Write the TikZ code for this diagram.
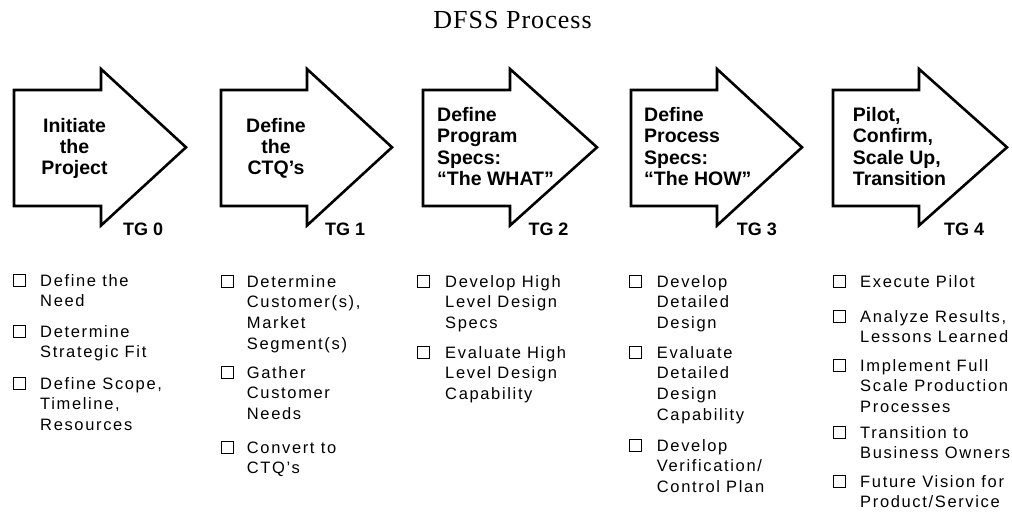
\documentclass[tikz,border=0pt]{standalone}
\usepackage{fontspec}
\setmainfont{Liberation Sans}
\newfontfamily\titlefont[LetterSpace=4]{Liberation Serif}
\newfontfamily\listfont[LetterSpace=10]{Liberation Sans}
\newcommand\mylines[2]{\begin{tabular}[t]{@{}#1@{}}#2\end{tabular}}
\newcommand\dfssarrow[4]{%
  \coordinate (#1) at (#2,90);
  \draw[bigarrow] (#1) -- (#3,90) -- (#3,69) -- (#4,147.3) -- (#3,225.5) -- (#3,206) -- (#2,206) -- cycle;}
\newcommand\chkitem[5]{%
  \node[cbox] (#1b) at (#2,#4+0.6) {};
  \node[item] (#1) at (#3,#4) {\mylines{l}{#5}};}
\begin{document}
\begin{tikzpicture}[x=1pt,y=-1pt,
  bigarrow/.style={draw=black, line width=2.6pt, line join=miter, fill=white},
  head/.style={inner sep=0pt, anchor=base, font=\bfseries\fontsize{19.5}{21.3}\selectfont},
  headl/.style={head, anchor=base west},
  tg/.style={inner sep=0pt, anchor=base west, font=\bfseries\fontsize{18}{20}\selectfont},
  item/.style={inner sep=0pt, anchor=base west, font=\listfont\fontsize{16.5}{20.7}\selectfont},
  cbox/.style={draw, line width=1.1pt, minimum size=12pt, inner sep=0pt, anchor=south west}]
\useasboundingbox (0,0) rectangle (1012,516);

\node[inner sep=0pt, anchor=base, font=\titlefont\fontsize{26}{30}\selectfont] (title) at (512.5,28.3) {DFSS Process};

% arrows
\dfssarrow{a0}{14}{101}{186}
\dfssarrow{a1}{221}{307}{392}
\dfssarrow{a2}{423}{510}{597}
\dfssarrow{a3}{631}{717}{802}
\dfssarrow{a4}{833}{919}{1007}

% arrow texts
\node[head] (t0) at (74.5,132) {\mylines{c}{Initiate\\the\\Project}};
\node[head] (t1) at (276,132) {\mylines{c}{Define\\the\\CTQ’s}};
\node[headl] (t2) at (437,121.7) {\mylines{l}{Define\\Program\\Specs:\\“The WHAT”}};
\node[headl] (t3) at (644,121.7) {\mylines{l}{Define\\Process\\Specs:\\“The HOW”}};
\node[headl] (t4) at (852.7,121.7) {\mylines{l}{Pilot,\\Confirm,\\Scale Up,\\Transition}};

% tollgates
\node[tg] (g0) at (123,235) {TG 0};
\node[tg] (g1) at (325,235) {TG 1};
\node[tg] (g2) at (528.3,235) {TG 2};
\node[tg] (g3) at (736.7,235) {TG 3};
\node[tg] (g4) at (944,235) {TG 4};

% column 1
\chkitem{c1a}{12.7}{40}{286}{Define the\\Need}
\chkitem{c1b}{12.7}{40}{337}{Determine\\Strategic Fit}
\chkitem{c1c}{12.7}{40}{389}{Define Scope,\\Timeline,\\Resources}
% column 2
\chkitem{c2a}{220.7}{246.7}{287}{Determine\\Customer(s),\\Market\\Segment(s)}
\chkitem{c2b}{220.7}{246.7}{378}{Gather\\Customer\\Needs}
\chkitem{c2c}{220.7}{246.7}{453}{Convert to\\CTQ’s}
% column 3
\chkitem{c3a}{417.3}{445}{287}{Develop High\\Level Design\\Specs}
\chkitem{c3b}{417.3}{445}{358}{Evaluate High\\Level Design\\Capability}
% column 4
\chkitem{c4a}{629.3}{656.7}{287}{Develop\\Detailed\\Design}
\chkitem{c4b}{629.3}{656.7}{358}{Evaluate\\Detailed\\Design\\Capability}
\chkitem{c4c}{629.3}{656.7}{451}{Develop\\Verification/\\Control Plan}
% column 5
\chkitem{c5a}{833.3}{860}{287}{Execute Pilot}
\chkitem{c5b}{833.3}{860}{322}{Analyze Results,\\Lessons Learned}
\chkitem{c5c}{833.3}{860}{371}{Implement Full\\Scale Production\\Processes}
\chkitem{c5d}{833.3}{860}{438}{Transition to\\Business Owners}
\chkitem{c5e}{833.3}{860}{487}{Future Vision for\\Product/Service}
\end{tikzpicture}
\end{document}
